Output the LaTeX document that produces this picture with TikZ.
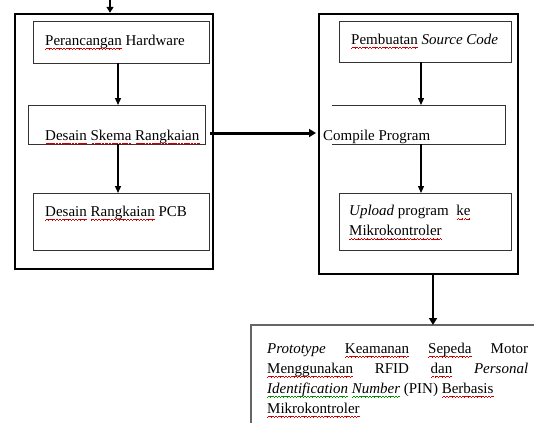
\documentclass[tikz,border=0pt]{standalone}
\usepackage{fontspec}
\setmainfont{Liberation Serif}
\usetikzlibrary{arrows.meta}
\newcommand\wavepiece{\rule[-4.2pt]{0.8pt}{0.6pt}\rule[-3.7pt]{0.8pt}{0.6pt}\rule[-3.2pt]{0.8pt}{0.6pt}\rule[-3.7pt]{0.8pt}{0.6pt}}
\newcommand\wavy[2]{\setbox0=\hbox{#2}\leavevmode\rlap{\textcolor{#1}{\hbox to \wd0{\xleaders\hbox{\wavepiece}\hfil}}}\box0\relax}
\newcommand\rw[1]{\wavy{red!80!black}{#1}}
\newcommand\gw[1]{\wavy{green!55!black}{#1}}
\tikzset{
  smallbox/.style={draw=black!80, line width=0.9pt, inner sep=0pt},
  txt/.style={inner sep=0pt, font=\fontsize{15}{20}\selectfont, align=left},
  thinarrow/.style={line width=1.3pt, -{Triangle[length=7pt,width=6pt]}},
  thickarrow/.style={line width=3pt, -{Triangle[length=7pt,width=8pt]}},
}
\begin{document}
\begin{tikzpicture}[x=1pt,y=-1pt]
\useasboundingbox (0,0) rectangle (534,423);
% big boxes
\node[draw, line width=2.4pt, minimum width=198pt, minimum height=255pt, inner sep=0pt] (L) at (114,141.5) {};
\node[draw, line width=2.4pt, minimum width=199pt, minimum height=260pt, inner sep=0pt] (R) at (418.5,144) {};
% left inner boxes
\node[smallbox, minimum width=176pt, minimum height=42pt] (b1) at (121,42) {};
\node[txt, anchor=west] (t1) at (45,42) {\rw{Perancangan} Hardware};
\node[smallbox, minimum width=177pt, minimum height=39pt] (b2) at (116.5,124.5) {};
\node[txt, anchor=west] (t2) at (45,137) {\rw{Desain} \rw{Skema} \rw{Rangkaian}};
\node[smallbox, minimum width=176pt, minimum height=57pt] (b3) at (121,221.5) {};
\node[txt, anchor=west] (t3) at (45,213) {\rw{Desain} \rw{Rangkaian} PCB};
% right inner boxes
\node[smallbox, minimum width=172pt, minimum height=41pt] (b4) at (425,41.5) {};
\node[txt, anchor=west] (t4) at (351,41) {\rw{Pembuatan} \emph{Source Code}};
\coordinate (c1) at (332,105);
\coordinate (c2) at (505,105);
\coordinate (c3) at (505,144);
\coordinate (c4) at (332,144);
\draw[black!80, line width=0.9pt] (c1) -- (c2) -- (c3) -- (c4);
\node[txt, anchor=west] (t5) at (323,137) {Compile Program};
\node[smallbox, minimum width=172pt, minimum height=57pt] (b6) at (425,221.5) {};
\node[txt, anchor=north west] (t6) at (349,205) {\emph{Upload} program\ \ \rw{ke}\\\rw{Mikrokontroler}};
% final box
\coordinate (f1) at (251,423);
\coordinate (f2) at (251,325);
\coordinate (f3) at (534,325);
\draw[black!60, line width=1.2pt] (f1) -- (f2) -- (f3);
\node[txt, anchor=north west, text width=261pt, align=justify] (t7) at (267,342.5)
{\hyphenpenalty=10000\exhyphenpenalty=10000
\emph{Prototype} \rw{Keamanan} \rw{Sepeda} Motor \rw{Menggunakan} RFID \rw{dan} \emph{Personal} \gw{\emph{Identification}} \gw{\emph{Number}} (PIN) \rw{Berbasis}\newline \rw{Mikrokontroler}\par};
% connectors
\coordinate (top) at (110,0);
\draw[line width=2pt, -{Triangle[length=6pt,width=7pt]}] (top) -- (top |- L.north);
\draw[thinarrow] (118,63) -- (118,105);
\draw[thinarrow] (118,144) -- (118,193);
\draw[thinarrow] (421,62) -- (421,105);
\draw[thinarrow] (421,144) -- (421,193);
\draw[thickarrow] ([xshift=5pt]b2.east |- 0,133) -- (316,133);
\coordinate (bt) at (433,325);
\draw[line width=2.4pt, -{Triangle[length=7pt,width=8pt]}] (bt |- R.south) -- (bt);
\end{tikzpicture}
\end{document}
